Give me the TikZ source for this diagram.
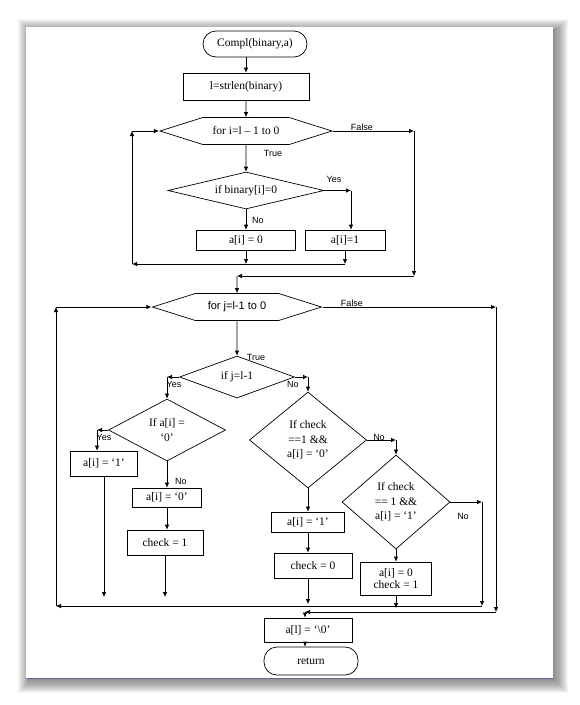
\documentclass[tikz,border=0pt]{standalone}
\usepackage{fontspec}
\setmainfont{Liberation Serif}
\newfontfamily\labelfont{Liberation Sans}
\usetikzlibrary{arrows.meta,shapes.geometric,shapes.symbols}
\tikzstyle{proc}=[rectangle, draw, fill=white, inner sep=1pt, align=center]
\tikzstyle{term}=[rectangle, draw, rounded corners=13pt, fill=white]
\tikzstyle{decide}=[diamond, draw, inner sep=0pt, align=center]
\tikzstyle{loophead}=[signal, signal to=east and west, signal pointer angle=35, draw, inner sep=0pt]
\tikzstyle{lbl}=[font=\labelfont\fontsize{9}{10}\selectfont, inner sep=0pt]
\tikzstyle{arr}=[-{Latex[length=5pt,width=4.5pt]}]

\begin{document}
\begin{tikzpicture}[x=1pt, y=-1pt, line width=0.7pt, font=\fontsize{11.5}{14.5}\selectfont]
\useasboundingbox (0,0) rectangle (580,705);
\fill[white] (0,0) rectangle (580,705);
\foreach \k in {1,...,14}
  \fill[black, opacity=0.04] ({31-0.9*\k},{32-0.9*\k}) rectangle ({553+1.1*\k},{678+1.1*\k});
\fill[white] (26,27) rectangle (553,678);
\draw[blue!20!gray, line width=1pt] (26,678) -- (553,678);

\node[term, minimum width=104pt, minimum height=26pt] (start) at (255,44) {Compl(binary,a)};
\node[proc, minimum width=126pt, minimum height=27pt] (box1) at (246,86.5) {l=strlen(binary)};
\node[loophead, minimum width=172pt, minimum height=27pt] (hex1) at (246,131) {for i=l – 1 to 0};
\node[decide, aspect=4.2, minimum width=156pt, minimum height=37pt] (dia1) at (246,190.5) {if binary[i]=0};
\node[proc, minimum width=99pt, minimum height=20pt] (set0) at (246,240) {a[i] = 0};
\node[proc, minimum width=80pt, minimum height=20pt] (set1) at (345,240) {a[i]=1};
\node[lbl] (f1) at (362,127) {False};
\node[lbl] (t1) at (273,153) {True};
\node[lbl] (ys1) at (334,179) {Yes};
\node[lbl] (no1) at (258,220) {No};

\node[loophead, minimum width=169pt, minimum height=27pt, font=\labelfont\fontsize{11}{13}\selectfont] (hex2) at (237,307) {for j=l-1 to 0};
\node[decide, aspect=2.7, minimum width=115pt, minimum height=42pt] (dia2) at (237,377) {if j=l-1};
\node[decide, aspect=1.9, minimum width=117pt, minimum height=62pt] (dia3) at (167,430) {If a[i] =\\‘0’};
\node[proc, minimum width=67pt, minimum height=25pt] (setA) at (104,463.5) {a[i] = ‘1’};
\node[lbl] (no3) at (181,481) {No};
\node[proc, minimum width=69pt, minimum height=19pt] (setB) at (167,497.5) {a[i] = ‘0’};
\node[proc, minimum width=76pt, minimum height=25pt] (chk1) at (165,542.5) {check = 1};
\node[decide, aspect=1.2, minimum width=117pt, minimum height=96pt] (dia4) at (308,440) {If check\\==1 \&\&\\a[i] = ‘0’};
\node[proc, minimum width=73pt, minimum height=20pt] (setC) at (308,522) {a[i] = ‘1’};
\node[proc, minimum width=78pt, minimum height=25pt] (chk0) at (313,565.5) {check = 0};
\node[decide, aspect=1.15, minimum width=108pt, minimum height=94pt] (dia5) at (396,502) {If check\\== 1 \&\&\\a[i] = ‘1’};
\node[proc, minimum width=71pt, minimum height=33pt] (setD) at (396,578.5) {a[i] = 0\\[-2pt]check = 1};
\node[proc, minimum width=88pt, minimum height=24pt] (endset) at (308,630) {a[l] = ‘\textbackslash0’};
\node[term, minimum width=94pt, minimum height=28pt] (ret) at (311,661) {return};
\node[lbl] (f2) at (352,303) {False};
\node[lbl] (t2) at (256,357) {True};
\node[lbl] (ys2) at (174,384) {Yes};
\node[lbl] (no2) at (293,384) {No};
\node[lbl] (ys3) at (104,437) {Yes};
\node[lbl] (no4) at (379,437) {No};
\node[lbl] (no5) at (463,516) {No};

\coordinate (yA) at (351,190.5);
\coordinate (lb1) at (345,264);
\coordinate (lb2) at (132,264);
\coordinate (lt1) at (132,131);
\coordinate (rf1) at (414,131);
\coordinate (rf2) at (414,276);
\coordinate (rf3) at (237,276);
\coordinate (y2) at (167,377);
\coordinate (n2) at (308,377);
\coordinate (y3) at (97,430);
\coordinate (n4) at (396,440);
\coordinate (n5) at (482,502);
\coordinate (e1) at (100,597);
\coordinate (e2) at (308,604);
\coordinate (e3) at (396,608);
\coordinate (bl1) at (482,606);
\coordinate (bl2) at (56,606);
\coordinate (lt2) at (56,307);
\coordinate (rf4) at (496,307);
\coordinate (rf5) at (496,612);
\coordinate (rf6) at (305,612);

\draw[arr] (start.south -| box1) -- (box1.north);
\draw[arr] (box1) -- (hex1);
\draw[arr] (hex1) -- (dia1);
\draw[arr] (dia1.east) -- (yA);
\draw[arr] (yA) -- (yA |- set1.north);
\draw[arr] (dia1) -- (set0);
\draw[arr] (set0) -- (set0 |- lb1);
\draw[arr] (set1) -- (set1 |- lb1);
\draw[arr] (lb1) -- (lb2);
\draw[arr] (lb2) -- (lt1);
\draw[arr] (lt1) -- (hex1.west);
\draw[arr] (hex1.east) -- (rf1);
\draw[arr] (rf1) -- (rf2);
\draw[arr] (rf2) -- (rf3);
\draw[arr] (rf3) -- (hex2);

\draw[arr] (hex2) -- (dia2);
\draw[arr] (dia2.west) -- (y2);
\draw[arr] (y2) -- (dia3.north);
\draw[arr] (dia2.east) -- (n2);
\draw[arr] (n2) -- (dia4.north);
\draw[arr] (dia3.west) -- (y3);
\draw[arr] (y3) -- (y3 |- setA.north);
\draw[arr] (setA) -- (setA |- e1);
\draw[arr] (dia3.south) -- (setB.north);
\draw[arr] (setB) -- (setB |- chk1.north);
\draw[arr] (chk1) -- (chk1 |- e1);
\draw[arr] (dia4.south) -- (setC.north);
\draw[arr] (setC) -- (setC |- chk0.north);
\draw[arr] (setC |- chk0.south) -- (e2);
\draw[arr] (dia4.east) -- (n4);
\draw[arr] (n4) -- (dia5.north);
\draw[arr] (dia5.south) -- (setD.north);
\draw[arr] (setD) -- (e3);
\draw[arr] (dia5.east) -- (n5);
\draw[arr] (n5) -- (bl1);
\draw[arr] (bl1) -- (bl2);
\draw[arr] (bl2) -- (lt2);
\draw[arr] (lt2) -- (hex2.west);
\draw[arr] (hex2.east) -- (rf4);
\draw[arr] (rf4) -- (rf5);
\draw[arr] (rf5) -- (rf6);
\draw[arr] (rf6) -- (rf6 |- endset.north);
\draw[arr] (endset.south -| rf6) -- (rf6 |- ret.north);
\end{tikzpicture}
\end{document}
